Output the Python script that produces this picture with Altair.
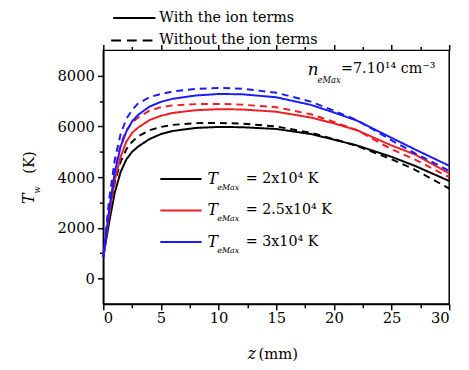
import altair as alt
import pandas as pd

# ---- data ----
z = [0, 0.5, 1, 1.5, 2, 2.5, 3, 4, 5, 6, 8, 10, 12, 15, 18, 20, 22, 25, 27, 30]

T2_with = [850, 2200, 3400, 4200, 4700, 5000, 5200, 5500, 5700, 5820, 5940, 5980, 5970, 5900, 5700, 5480, 5250, 4800, 4450, 3850]
T2_without = [850, 2500, 3800, 4600, 5100, 5400, 5600, 5850, 5980, 6060, 6130, 6140, 6110, 6000, 5750, 5500, 5230, 4700, 4300, 3550]
T25_with = [850, 2500, 3900, 4800, 5400, 5750, 5950, 6250, 6420, 6530, 6640, 6680, 6670, 6580, 6350, 6120, 5850, 5250, 4900, 4150]
T25_without = [850, 2800, 4300, 5300, 5850, 6150, 6350, 6620, 6760, 6830, 6880, 6890, 6860, 6760, 6480, 6180, 5850, 5100, 4700, 4000]
T3_with = [850, 2700, 4200, 5200, 5800, 6200, 6450, 6780, 6970, 7090, 7220, 7280, 7270, 7150, 6850, 6550, 6230, 5550, 5100, 4450]
T3_without = [850, 3100, 4700, 5700, 6300, 6650, 6900, 7150, 7280, 7380, 7480, 7520, 7490, 7330, 6980, 6620, 6250, 5450, 4950, 4250]

groups = ["2", "2.5", "3"]
kinds = ["with", "without"]
colors = ["#000000", "#f21c24", "#1a1aff"]

x_ticks = [0, 2.5, 5, 7.5, 10, 12.5, 15, 17.5, 20, 22.5, 25, 27.5, 30]
y_ticks = [0, 1000, 2000, 3000, 4000, 5000, 6000, 7000, 8000]

series = [
    ("2", "with", T2_with), ("2", "without", T2_without),
    ("2.5", "with", T25_with), ("2.5", "without", T25_without),
    ("3", "with", T3_with), ("3", "without", T3_without),
]
rows = []
for g, k, vals in series:
    for zz, t in zip(z, vals):
        rows.append({"z": zz, "T": t, "grp": g, "kind": k, "sid": g + "_" + k})
df = pd.DataFrame(rows)

SERIF = "DejaVu Serif"
one = pd.DataFrame({"a": [0]})

xscale = alt.Scale(domain=[0, 30], nice=False, zero=False)
yscale = alt.Scale(domain=[-1000, 9000], nice=False, zero=False)

minor_x = {"condition": {"test": "datum.value % 5 != 0", "value": 4}, "value": 6}
y_axis = alt.Axis(
    values=y_ticks, title=None, grid=False, format="d",
    labelExpr="datum.value % 2000 == 0 ? datum.label : ''",
    labelOverlap=False, labelPadding=3,
    tickSize={"condition": {"test": "datum.value % 2000 != 0", "value": 4}, "value": 6},
)

lines = alt.Chart(df).mark_line(strokeWidth=2).encode(
    x=alt.X("z:Q", scale=xscale, axis=alt.Axis(
        values=x_ticks, title=None, grid=False,
        labelExpr="datum.value % 5 == 0 ? datum.label : ''",
        labelOverlap=False, labelPadding=1, tickSize=minor_x,
    )),
    y=alt.Y("T:Q", scale=yscale, axis=y_axis),
    color=alt.Color("grp:N", scale=alt.Scale(domain=groups, range=colors), legend=None),
    strokeDash=alt.StrokeDash("kind:N", scale=alt.Scale(domain=kinds, range=[[1, 0], [7, 5]]), legend=None),
    detail="sid:N",
)

# invisible copy that carries the top axis (ticks only)
top_axis = alt.Chart(df).mark_line(opacity=0).encode(
    x=alt.X("z:Q", scale=xscale, axis=alt.Axis(
        orient="top", values=x_ticks, title=None, grid=False, labels=False,
        domain=False, tickSize=minor_x,
    )),
    y=alt.Y("T:Q", scale=yscale, axis=y_axis),
    detail="sid:N",
)


def txt(s, px, py, size=15, style="normal", angle=0, align="left"):
    return alt.Chart(one).mark_text(
        text=s, font=SERIF, fontSize=size, fontStyle=style, angle=angle,
        align=align, baseline="middle", color="black",
    ).encode(x=alt.value(px), y=alt.value(py))


def seg(x1, x2, py, color, dash=None):
    kw = {"color": color, "strokeWidth": 2}
    if dash:
        kw["strokeDash"] = dash
    return alt.Chart(one).mark_rule(**kw).encode(x=alt.value(x1), x2=alt.value(x2), y=alt.value(py))


layers = [lines, top_axis]

# top legend (outside plot)
layers += [
    seg(10, 53, -33, "black"),
    seg(8, 52, -10, "black", [10, 6]),
    txt("With the ion terms", 57, -33, 14.5),
    txt("Without the ion terms", 57, -10, 14.5),
]

# inner legend
legend_labels = ["= 2x10\u2074 K", "= 2.5x10\u2074 K", "= 3x10\u2074 K"]
legend_y = [131, 163, 195]
for lab, yy, col in zip(legend_labels, legend_y, colors):
    layers += [
        seg(58, 100, yy, col),
        txt("T", 106, yy, 16, "italic"),
        txt("eMax", 116, yy + 9, 8, "italic"),
        txt(lab, 145, yy, 14.5),
    ]

# density annotation
layers += [
    txt("n", 208, 20, 17, "italic"),
    txt("eMax", 218, 30, 8.5, "italic"),
    txt("=7.10\u00b9\u2074 cm\u207b\u00b3", 242, 19, 14.5),
]

# axis titles
layers += [
    txt("z", 147, 309, 16, "italic"),
    txt("(mm)", 158, 309, 15),
    txt("T", -76, 151, 16, "italic", angle=270, align="center"),
    txt("w", -67, 142, 8.5, "italic", angle=270, align="center"),
    txt("(K)", -76, 114, 15, "normal", angle=270, align="center"),
]

chart = alt.layer(*layers).resolve_axis(x="independent").properties(
    width=352, height=258,
    autosize=alt.AutoSizeParams(type="none"),
    padding={"left": 97, "top": 40, "right": 12, "bottom": 56},
    background="white",
).configure_view(
    stroke="black", strokeWidth=1.5,
).configure_axis(
    labelFont=SERIF, labelFontSize=15, labelColor="black",
    tickColor="black", tickWidth=1.5, domainColor="black", domainWidth=1.5,
)

chart.save("out.html", embed_options={"renderer": "svg", "actions": False})
